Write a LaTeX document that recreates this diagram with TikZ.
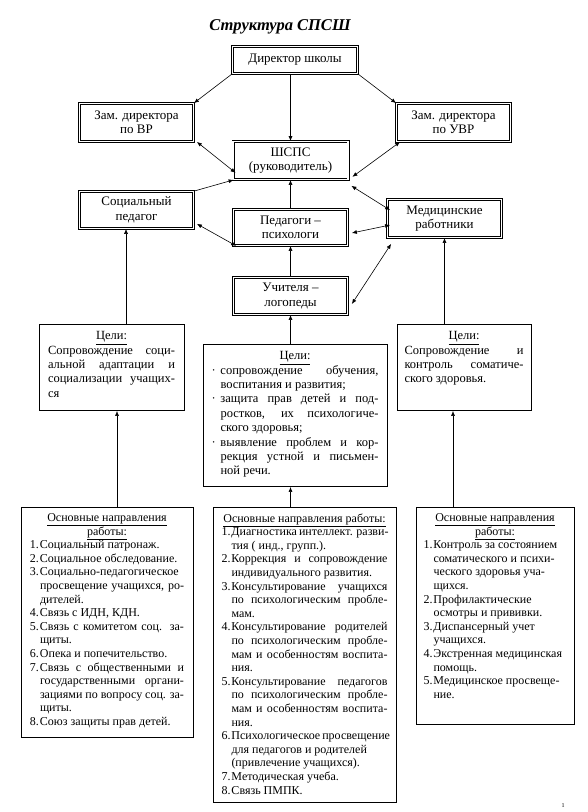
\documentclass[tikz,border=0pt]{standalone}
\usepackage{fontspec}
\setmainfont{Liberation Serif}
\usetikzlibrary{arrows.meta}

\newlength\numw
\newcommand\goaltitle[1]{\makebox[\hsize][c]{\underline{#1}}\par}
\newcommand\jline[1]{\makebox[\hsize][s]{#1}\par}
\newcommand\nfirst[2]{\makebox[\numw][l]{#1}#2\par}
\newcommand\nfirstj[2]{\makebox[\numw][l]{#1}\makebox[\dimexpr\hsize-\numw][s]{#2}\par}
\newcommand\ncont[1]{\hspace*{\numw}#1\par}
\newcommand\ncontj[1]{\hspace*{\numw}\makebox[\dimexpr\hsize-\numw][s]{#1}\par}

\begin{document}
\begin{tikzpicture}[x=1pt,y=-1pt,
	every node/.style={align=center,font=\fontsize{13}{14.5}\selectfont},
	unit/.style={draw,double,double distance=1.6pt,line width=0.7pt,minimum width=114pt,minimum height=37pt,inner sep=1pt},
	goal/.style={draw,line width=0.8pt,inner ysep=7pt,font=\fontsize{12.5}{14.4}\selectfont},
	task/.style={draw,line width=0.8pt,inner ysep=6pt,font=\fontsize{12}{13.6}\selectfont},
	link/.style={-{Latex[length=5pt,width=4pt]},line width=0.6pt},
	both/.style={{Latex[length=5pt,width=4pt]}-{Latex[length=5pt,width=4pt]},line width=0.6pt}]
	\useasboundingbox (0,0) rectangle (587,812);

	\node[font=\fontsize{16.5}{18}\selectfont\bfseries\itshape] (title) at (280,27) {Структура СПСШ};

	\node[unit,minimum width=125pt,minimum height=27pt] (dir) at (295,60) {Директор школы};
	\node[unit,minimum height=38pt] (vr) at (136.5,122.5) {Зам. директора\\по ВР};
	\node[unit,minimum height=38pt] (uvr) at (453.5,122.5) {Зам. директора\\по УВР};
	\node[unit,minimum width=115pt,minimum height=38pt] (shsps) at (290.5,160.5) {ШСПС\\(руководитель)};
	\node[unit] (socped) at (136.5,210) {Социальный\\педагог};
	\node[unit,minimum height=36pt] (psych) at (290.5,227.5) {Педагоги –\\психологи};
	\node[unit,minimum height=38pt] (med) at (444.5,218.5) {Медицинские\\работники};
	\node[unit] (logo) at (290.5,296) {Учителя –\\логопеды};

	\node[goal,inner xsep=9pt] (gl) at (111.5,367.5) {\parbox[c][72pt][t]{127pt}{%
		\goaltitle{Цели:}
		\jline{Сопровождение соци-}
		\jline{альной адаптации и}
		\jline{социализации учащих-}
		ся\par}};
	\node[goal,inner xsep=8.5pt] (gc) at (295,415.5) {\parbox[c][128pt][t]{167pt}{%
		\setlength\numw{9pt}%
		\goaltitle{Цели:}
		\nfirstj{·}{сопровождение обучения,}
		\ncont{воспитания и развития;}
		\nfirstj{·}{защита прав детей и под-}
		\ncontj{ростков, их психологиче-}
		\ncont{ского здоровья;}
		\nfirstj{·}{выявление проблем и кор-}
		\ncontj{рекция устной и письмен-}
		\ncont{ной речи.}}};
	\node[goal,inner xsep=7.5pt] (gr) at (464,367.5) {\parbox[c][72pt][t]{119pt}{%
		\goaltitle{Цели:}
		\jline{Сопровождение и}
		\jline{контроль соматиче-}
		ского здоровья.\par}};

	\node[task,inner xsep=9pt] (bl) at (107,622.5) {\parbox[c][218pt][t]{154pt}{%
		\setlength\numw{10pt}%
		\goaltitle{Основные направления}
		\goaltitle{работы:}
		\nfirst{1.}{Социальный патронаж.}
		\nfirst{2.}{Социальное обследование.}
		\nfirst{3.}{Социально-педагогическое}
		\ncontj{просвещение учащихся, ро-}
		\ncont{дителей.}
		\nfirst{4.}{Связь с ИДН, КДН.}
		\nfirstj{5.}{Связь с комитетом соц. за-}
		\ncont{щиты.}
		\nfirst{6.}{Опека и попечительство.}
		\nfirstj{7.}{Связь с общественными и}
		\ncontj{государственными органи-}
		\ncontj{зациями по вопросу соц. за-}
		\ncont{щиты.}
		\nfirst{8.}{Союз защиты прав детей.}}};
	\node[task,inner xsep=8.5pt] (bc) at (304.5,655) {\parbox[c][283pt][t]{166pt}{%
		\setlength\numw{10pt}%
		\goaltitle{Основные направления работы:}
		\nfirstj{1.}{Диагностика интеллект. разви-}
		\ncont{тия ( инд., групп.).}
		\nfirstj{2.}{Коррекция и сопровождение}
		\ncont{индивидуального развития.}
		\nfirstj{3.}{Консультирование учащихся}
		\ncontj{по психологическим пробле-}
		\ncont{мам.}
		\nfirstj{4.}{Консультирование родителей}
		\ncontj{по психологическим пробле-}
		\ncontj{мам и особенностям воспита-}
		\ncont{ния.}
		\nfirstj{5.}{Консультирование педагогов}
		\ncontj{по психологическим пробле-}
		\ncontj{мам и особенностям воспита-}
		\ncont{ния.}
		\nfirstj{6.}{Психологическое просвещение}
		\ncont{для педагогов и родителей}
		\ncont{(привлечение учащихся).}
		\nfirst{7.}{Методическая учеба.}
		\nfirst{8.}{Связь ПМПК.}}};
	\node[task,inner xsep=7.5pt] (br) at (495,616) {\parbox[c][205pt][t]{143pt}{%
		\setlength\numw{10pt}%
		\goaltitle{Основные направления}
		\goaltitle{работы:}
		\nfirst{1.}{Контроль за состоянием}
		\ncont{соматического и психи-}
		\ncont{ческого здоровья уча-}
		\ncont{щихся.}
		\nfirst{2.}{Профилактические}
		\ncont{осмотры и прививки.}
		\nfirst{3.}{Диспансерный учет}
		\ncont{учащихся.}
		\nfirst{4.}{Экстренная медицинская}
		\ncont{помощь.}
		\nfirst{5.}{Медицинское просвеще-}
		\ncont{ние.}}};

	\node[font=\fontsize{6}{7}\selectfont] (pg) at (563,806) {1};

	\coordinate (glup) at ([xshift=14.5pt]gl.north);
	\coordinate (bltop) at ([xshift=5.5pt]gl.south);
	\coordinate (brtop) at ([xshift=-11pt]gr.south);

	\path[link] (dir.south west) edge (vr.north east);
	\path[link] (dir.south east) edge (uvr.north west);
	\path[link] (dir.south -| shsps) edge (shsps.north);
	\path[both] ([xshift=3pt]vr.south east) edge ([shift={(3pt,7pt)}]shsps.south west);
	\path[both] ([xshift=4pt]uvr.south west) edge ([shift={(4pt,3pt)}]shsps.south east);
	\path[link] (socped.north east) edge ([xshift=1pt]shsps.south west);
	\path[link] (psych.north) edge (shsps.south);
	\path[both] ([shift={(3pt,5pt)}]socped.south east) edge ([xshift=3pt]psych.south west);
	\path[both] ([shift={(3pt,-6pt)}]shsps.south east) edge ([shift={(3pt,-11pt)}]med.north west);
	\path[both] ([shift={(4pt,-5.5pt)}]psych.east) edge ([shift={(3pt,-6.5pt)}]med.west);
	\path[both] ([shift={(4pt,-8pt)}]logo.east) edge ([shift={(4pt,-6pt)}]med.south west);
	\path[link] (logo.north) edge (psych.south);
	\path[link] (logo |- gc.north) edge (logo.south);
	\path[link] (glup) edge (glup |- socped.south);
	\path[link] (med |- gr.north) edge (med.south);
	\path[link] (bltop |- bl.north) edge (bltop);
	\path[link] (logo |- bc.north) edge (logo |- gc.south);
	\path[link] (brtop |- br.north) edge (brtop);
\end{tikzpicture}
\end{document}
